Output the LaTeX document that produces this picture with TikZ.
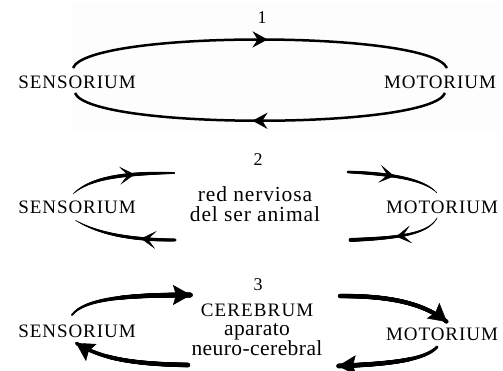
\documentclass[tikz,border=0pt]{standalone}
\usepackage{fontspec}
\setmainfont{Liberation Serif}
\usetikzlibrary{arrows.meta,decorations.markings}
\begin{document}
\begin{tikzpicture}[x=1pt,y=-1pt,
  caps/.style={inner sep=0pt, font=\fontsize{19}{20}\selectfont\addfontfeature{LetterSpace=5}},
  txt/.style={inner sep=0pt, align=center, anchor=base, font=\fontsize{21.5}{20}\selectfont\addfontfeature{LetterSpace=4}},
  num/.style={inner sep=0pt, font=\fontsize{18}{18}\selectfont},
  loop/.style={line width=2.5pt},
  midarrow/.style={postaction={decorate},decoration={markings,
     mark=at position #1 with {\arrow{Stealth[length=15pt,width=16pt,inset=5pt]}}}},
  barb/.style={decoration={markings,
     mark=at position #1 with {\arrow{Stealth[length=15pt,width=18pt,inset=8pt]}}},decorate},
  bighead/.style={decoration={markings,
     mark=at position 1 with {\arrow{Stealth[length=18pt,width=20pt,inset=3pt]}}},decorate},
  taper/.style n args={3}{decoration={markings,
     mark=between positions 0 and 1 step 0.4pt with {%
       \pgfmathsetmacro\tpos{\pgfkeysvalueof{/pgf/decoration/mark info/distance from start}/\pgfdecoratedpathlength}%
       \pgfmathsetmacro\rrad{(#1*2*(\tpos-0.5)*(\tpos-1) - #2*4*\tpos*(\tpos-1) + #3*2*\tpos*(\tpos-0.5))/2}%
       \fill (0,0) circle[radius=\rrad pt];}}, decorate}]
\useasboundingbox (0,0) rectangle (503,371);
\fill[fill={rgb,255:red,253;green,253;blue,253}] (72,3) rectangle (500,132);

% panel 1
\node[num] (num1) at (262,18) {1};
\node[caps] (sens1) at (77,82) {SENSORIUM};
\node[caps] (mot1) at (440,82) {MOTORIUM};
\coordinate (a1) at (73,68);
\coordinate (b1) at (447,68);
\coordinate (c1) at (75,93);
\coordinate (d1) at (445,93);
\draw[loop,midarrow=0.52] (a1) .. controls (88,30) and (430,30) .. (b1);
\draw[loop,midarrow=0.52] (d1) .. controls (430,130) and (90,130) .. (c1);

% panel 2
\node[num] (num2) at (258,160) {2};
\node[txt] (mid2) at (255,222) {red nerviosa\\del ser animal};
\node[caps] (sens2) at (77,207) {SENSORIUM};
\node[caps] (mot2) at (442,207) {MOTORIUM};
\coordinate (a2) at (73,194);
\coordinate (b2) at (175,173);
\coordinate (c2) at (75,220);
\coordinate (d2) at (175,240);
\coordinate (e2) at (348,172);
\coordinate (f2) at (437,193);
\coordinate (g2) at (437,218);
\coordinate (h2) at (350,240);
\path[postaction={taper={0.7}{3.6}{1.8}},postaction={barb=0.62}] (a2) .. controls (88,180) and (115,173) .. (b2);
\path[postaction={taper={3.0}{3.2}{0.7}},postaction={barb=0.33}] (d2) .. controls (125,240) and (95,232) .. (c2);
\path[postaction={taper={2.6}{3.2}{0.8}},postaction={barb=0.5}] (e2) .. controls (395,174) and (425,180) .. (f2);
\path[postaction={taper={0.8}{3.0}{4.0}},postaction={barb=0.5}] (g2) .. controls (428,234) and (400,238) .. (h2);

% panel 3
\node[num] (num3) at (258,285) {3};
\node[txt,font=\fontsize{21.5}{19.5}\selectfont\addfontfeature{LetterSpace=2}] (mid3) at (257,355)
  {{\fontsize{19}{19.5}\selectfont\addfontfeature{LetterSpace=6}CEREBRUM}\\aparato\\neuro-cerebral};
\node[caps] (sens3) at (77,331) {SENSORIUM};
\node[caps] (mot3) at (442,334) {MOTORIUM};
\coordinate (a3) at (72,315);
\coordinate (b3) at (191,295);
\coordinate (c3) at (188,365);
\coordinate (d3) at (76,343);
\coordinate (e3) at (340,296);
\coordinate (f3) at (447,322);
\coordinate (g3) at (437,347);
\coordinate (h3) at (338,366);
\path[postaction={taper={2.0}{4.2}{5.0}},postaction={bighead}] (a3) .. controls (85,298) and (130,295) .. (b3);
\path[postaction={taper={4.6}{4.2}{3.6}},postaction={bighead}] (c3) .. controls (130,364) and (100,358) .. (d3);
\path[postaction={taper={4.4}{4.4}{4.0}},postaction={bighead}] (e3) .. controls (380,296) and (420,300) .. (f3);
\path[postaction={taper={3.0}{4.4}{4.6}},postaction={bighead}] (g3) .. controls (425,360) and (390,364) .. (h3);
\end{tikzpicture}
\end{document}
